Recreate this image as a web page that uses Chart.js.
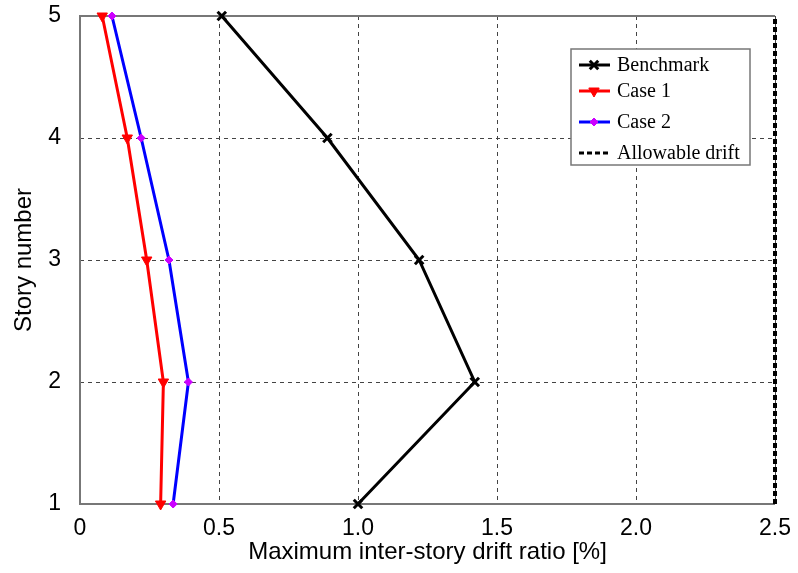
<!DOCTYPE html>
<html>
<head>
<meta charset="utf-8">
<script src="https://cdn.jsdelivr.net/npm/chart.js@4/dist/chart.umd.min.js"></script>
<style>
    html, body { margin: 0; padding: 0; background: #fff; }
    #wrap { width: 798px; height: 573px; }
</style>
</head>
<body>
<div id="wrap"><canvas id="myDiagram"></canvas></div>
<script>
const stories = [1, 2, 3, 4, 5];
const benchmark = [1.0, 1.42, 1.22, 0.89, 0.51];
const case1 = [0.29, 0.30, 0.24, 0.17, 0.08];
const case2 = [0.335, 0.39, 0.32, 0.22, 0.115];
const allowable = [2.5, 2.5, 2.5, 2.5, 2.5];
const seriesNames = ['Benchmark', 'Case 1', 'Case 2', 'Allowable drift'];
const xTicks = [0, 0.5, 1.0, 1.5, 2.0, 2.5];

const fontSans = '"Liberation Sans", Arial, sans-serif';

function points(values) {
    return values.map((v, i) => ({x: v, y: stories[i]}));
}

const data = {
    datasets: [
        {
            label: seriesNames[0],
            data: points(benchmark),
            borderColor: '#000',
            backgroundColor: '#000',
            borderWidth: 3,
            pointStyle: 'crossRot',
            pointRadius: 6,
            pointBorderWidth: 3,
            pointBorderColor: '#000',
            clip: false
        },
        {
            label: seriesNames[1],
            data: points(case1),
            borderColor: '#ff0000',
            backgroundColor: '#ff0000',
            borderWidth: 3,
            pointStyle: 'triangle',
            pointRotation: 180,
            pointRadius: 6,
            pointBorderWidth: 1,
            pointBorderColor: '#ff0000',
            clip: false
        },
        {
            label: seriesNames[2],
            data: points(case2),
            borderColor: '#0000ff',
            backgroundColor: '#cc00ff',
            borderWidth: 3,
            pointStyle: 'rectRot',
            pointRadius: 4,
            pointBorderWidth: 1,
            pointBorderColor: '#cc00ff',
            clip: false
        },
        {
            label: seriesNames[3],
            data: points(allowable),
            borderColor: '#000',
            backgroundColor: '#000',
            borderWidth: 4,
            borderDash: [5, 3],
            pointRadius: 0,
            clip: false
        }
    ]
};

new Chart(document.getElementById('myDiagram'), {
    type: 'line',
    data: data,
    plugins: [{
        id: 'frame',
        beforeDatasetsDraw(chart) {
            const a = chart.chartArea;
            const ctx = chart.ctx;
            ctx.save();
            ctx.strokeStyle = '#777';
            ctx.lineWidth = 2;
            ctx.beginPath();
            ctx.moveTo(a.right, a.top);
            ctx.lineTo(a.left, a.top);
            ctx.lineTo(a.left, a.bottom);
            ctx.lineTo(a.right, a.bottom);
            ctx.stroke();
            ctx.restore();
        }
    }, {
        // legend box inside the plot
        id: 'legendBox',
        afterDraw(chart) {
            const ctx = chart.ctx;
            const left = 571, top = 49, w = 179, h = 116;
            ctx.save();
            ctx.fillStyle = '#fff';
            ctx.fillRect(left, top, w, h);
            ctx.strokeStyle = '#777';
            ctx.lineWidth = 1.5;
            ctx.strokeRect(left, top, w, h);
            const rows = [65, 91, 122, 153];
            chart.data.datasets.forEach((ds, i) => {
                const y = rows[i];
                ctx.strokeStyle = ds.borderColor;
                ctx.lineWidth = 3;
                ctx.setLineDash(ds.borderDash || []);
                ctx.beginPath();
                ctx.moveTo(579, y);
                ctx.lineTo(610, y);
                ctx.stroke();
                ctx.setLineDash([]);
                if (ds.pointRadius > 0) {
                    ctx.fillStyle = ds.backgroundColor;
                    ctx.strokeStyle = ds.pointBorderColor;
                    ctx.lineWidth = ds.pointBorderWidth;
                    Chart.helpers.drawPoint(ctx, {
                        pointStyle: ds.pointStyle,
                        radius: ds.pointRadius,
                        rotation: ds.pointRotation || 0,
                        borderWidth: ds.pointBorderWidth
                    }, 594, y);
                }
                ctx.fillStyle = '#000';
                ctx.font = '20px "Liberation Serif", "Times New Roman", serif';
                ctx.textBaseline = 'middle';
                ctx.fillText(ds.label, 617, y + 1);
            });
            ctx.restore();
        }
    }],
    options: {
        responsive: true,
        maintainAspectRatio: false,
        animation: false,
        layout: {
            padding: {top: 16, right: 23, left: 10, bottom: 6}
        },
        plugins: {
            legend: {display: false},
            tooltip: {enabled: false}
        },
        scales: {
            x: {
                type: 'linear',
                min: 0,
                max: 2.5,
                afterBuildTicks(scale) {
                    scale.ticks = xTicks.map(v => ({value: v}));
                },
                afterFit(scale) {
                    scale.height = 63;
                    scale.paddingLeft = 0;
                    scale.paddingRight = 0;
                },
                ticks: {
                    color: '#000',
                    padding: 11,
                    font: {family: fontSans, size: 23},
                    callback: v => v === 0 ? '0' : v.toFixed(1)
                },
                grid: {
                    color: '#444',
                    lineWidth: 1,
                    drawTicks: false
                },
                border: {display: false, dash: [4, 4]},
                title: {
                    display: true,
                    text: 'Maximum inter-story drift ratio [%]',
                    color: '#000',
                    font: {family: fontSans, size: 24},
                    padding: {top: 0, bottom: 0}
                }
            },
            y: {
                type: 'linear',
                min: 1,
                max: 5,
                ticks: {
                    stepSize: 1,
                    color: '#000',
                    padding: 19,
                    font: {family: fontSans, size: 23}
                },
                afterFit(scale) {
                    scale.width = 70;
                    scale.paddingTop = 0;
                    scale.paddingBottom = 0;
                },
                grid: {
                    color: '#444',
                    lineWidth: 1,
                    drawTicks: false
                },
                border: {display: false, dash: [4, 4]},
                title: {
                    display: true,
                    text: 'Story number',
                    color: '#000',
                    font: {family: fontSans, size: 24},
                    padding: {top: 0, bottom: 0}
                }
            }
        }
    }
});
</script>
</body>
</html>
